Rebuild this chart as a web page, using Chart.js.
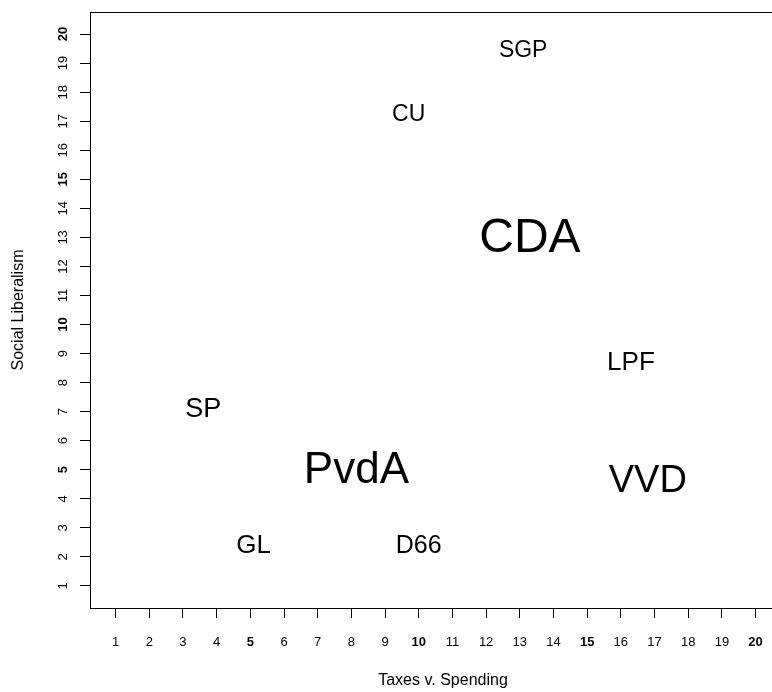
<!DOCTYPE html>
<html>
<head>
<meta charset="utf-8">
<script src="https://cdn.jsdelivr.net/npm/chart.js@4.4.1/dist/chart.umd.min.js"></script>
<style>
  html, body { margin: 0; padding: 0; background: #fff; overflow: hidden; }
  #wrap { width: 772px; height: 692px; overflow: hidden; }
</style>
</head>
<body>
<div id="wrap"><canvas id="chart" width="800" height="692"></canvas></div>
<script>
// party positions
const parties = ['SGP', 'CU', 'CDA', 'LPF', 'SP', 'PvdA', 'VVD', 'GL', 'D66'];
const taxesSpending = [13.1, 9.7, 13.3, 16.3, 3.6, 8.15, 16.8, 5.1, 10.0];
const socialLiberalism = [19.5, 17.3, 13.1, 8.75, 7.15, 5.1, 4.7, 2.45, 2.45];
const labelSizes = [23, 23, 48, 26, 27, 44, 38, 26, 25];

const xTicks = [1, 2, 3, 4, 5, 6, 7, 8, 9, 10, 11, 12, 13, 14, 15, 16, 17, 18, 19, 20];
const yTicks = [1, 2, 3, 4, 5, 6, 7, 8, 9, 10, 11, 12, 13, 14, 15, 16, 17, 18, 19, 20];
const boldTicks = [5, 10, 15, 20];

const family = "'Liberation Sans', Arial, Helvetica, sans-serif";

const tickFont = ctx => ({
  family: family,
  size: 13,
  weight: ctx.tick && boldTicks.includes(ctx.tick.value) ? 'bold' : 'normal'
});

// cadre autour de la zone de tracé (le bord droit sort de la fenêtre)
const boxPlugin = {
  id: 'box',
  beforeDatasetsDraw(chart) {
    const { ctx, chartArea: a } = chart;
    ctx.save();
    ctx.strokeStyle = '#000';
    ctx.lineWidth = 1;
    ctx.strokeRect(Math.round(a.left) + 0.5, Math.round(a.top) + 0.5,
      Math.round(a.right - a.left), Math.round(a.bottom - a.top));
    ctx.restore();
  }
};

// texte des partis à la place des points
const labelPlugin = {
  id: 'partyLabels',
  afterDatasetsDraw(chart) {
    const ctx = chart.ctx;
    const meta = chart.getDatasetMeta(0);
    ctx.save();
    ctx.fillStyle = '#000';
    ctx.textAlign = 'center';
    ctx.textBaseline = 'alphabetic';
    meta.data.forEach((pt, i) => {
      const size = labelSizes[i];
      ctx.font = size + 'px ' + family;
      ctx.fillText(parties[i], pt.x, pt.y + size * 0.358);
    });
    ctx.restore();
  }
};

new Chart(document.getElementById('chart'), {
  type: 'scatter',
  data: {
    datasets: [{
      data: parties.map((p, i) => ({ x: taxesSpending[i], y: socialLiberalism[i] })),
      pointRadius: 0,
      pointHoverRadius: 0
    }]
  },
  plugins: [boxPlugin, labelPlugin],
  options: {
    responsive: false,
    animation: false,
    events: [],
    layout: { padding: { top: 12, right: 4, bottom: 0, left: 0 } },
    plugins: { legend: { display: false }, tooltip: { enabled: false } },
    scales: {
      x: {
        type: 'linear',
        min: 0.24,
        max: 21.2,
        afterBuildTicks: scale => { scale.ticks = xTicks.map(v => ({ value: v })); },
        afterFit: scale => {
          scale.height = 84;
          scale.paddingLeft = 0;
          scale.paddingRight = 0;
        },
        border: { display: false },
        grid: { drawOnChartArea: false, drawTicks: true, tickLength: 10, color: '#000', lineWidth: 1 },
        ticks: { color: '#000', font: tickFont, padding: 17, maxRotation: 0, autoSkip: false },
        title: {
          display: true,
          text: 'Taxes v. Spending',
          color: '#000',
          font: { family: family, size: 16 },
          padding: { top: 0, bottom: 2 }
        }
      },
      y: {
        type: 'linear',
        min: 0.24,
        max: 20.76,
        afterBuildTicks: scale => { scale.ticks = yTicks.map(v => ({ value: v })); },
        afterFit: scale => {
          scale.width = 90;
          scale.paddingTop = 0;
          scale.paddingBottom = 0;
        },
        border: { display: false },
        grid: { drawOnChartArea: false, drawTicks: true, tickLength: 10, color: '#000', lineWidth: 1 },
        ticks: { color: '#000', font: tickFont, padding: 9, minRotation: 90, maxRotation: 90, crossAlign: 'center', autoSkip: false },
        title: {
          display: true,
          text: 'Social Liberalism',
          color: '#000',
          font: { family: family, size: 16 },
          padding: { top: 9, bottom: 0 }
        }
      }
    }
  }
});
</script>
</body>
</html>
